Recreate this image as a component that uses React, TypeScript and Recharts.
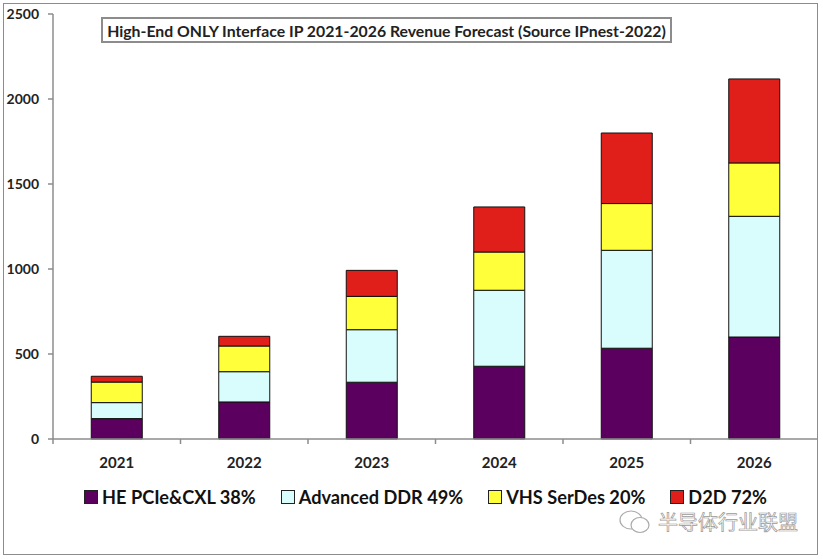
import React from "react";
import { Bar, BarChart, Legend, XAxis, YAxis } from "recharts";

const years = ["2021", "2022", "2023", "2024", "2025", "2026"];
const pcie = [120, 218, 334, 428, 534, 600];
const ddr = [94, 178, 309, 447, 576, 710];
const serdes = [121, 151, 196, 225, 275, 314];
const d2d = [34, 57, 153, 265, 415, 494];
const yTicks = [0, 500, 1000, 1500, 2000, 2500];
const seriesNames = ["HE PCIe&CXL 38%", "Advanced DDR 49%", "VHS SerDes 20%", "D2D 72%"];

const data = years.map((year, i) => ({
  year,
  pcie: pcie[i],
  ddr: ddr[i],
  serdes: serdes[i],
  d2d: d2d[i],
}));

const W = 823;
const H = 559;
const margin = { top: 14, right: 5, left: 0, bottom: 90 };
const yAxisWidth = 53;
const font = "Lato, 'Open Sans', sans-serif";
const axisGray = "#8c8c8c";

const halfBand = (W - margin.left - margin.right - yAxisWidth) / years.length / 2;

function YearTick(props: any) {
  const { x, y, payload } = props;
  const off = payload?.offset ?? halfBand;
  return (
    <g>
      <line x1={x - off} x2={x - off} y1={y - 5} y2={y} stroke={axisGray} strokeWidth={1.5} />
      <text
        x={x}
        y={y + 13}
        dy="0.71em"
        textAnchor="middle"
        fontFamily={font}
        fontWeight={700}
        fontSize={15}
        fill="#222"
      >
        {payload.value}
      </text>
    </g>
  );
}

function LegendBox(props: any) {
  // keep the series order, recharts sorts legend items by name otherwise
  const items = [...(props.payload || [])].sort(
    (a: any, b: any) => seriesNames.indexOf(a.value) - seriesNames.indexOf(b.value)
  );
  return (
    <div style={{ display: "flex", alignItems: "center", fontFamily: font, fontWeight: 700, fontSize: 18.2, color: "#111", whiteSpace: "nowrap" }}>
      {items.map((it: any) => (
        <div key={it.value} style={{ display: "flex", alignItems: "center", marginRight: 25 }}>
          <span
            style={{
              display: "inline-block",
              width: 12,
              height: 12,
              background: it.color,
              border: "1px solid #222",
              marginRight: 4,
            }}
          />
          <span>{it.value}</span>
        </div>
      ))}
    </div>
  );
}

export default function App() {
  return (
    <div style={{ position: "absolute", left: 0, top: 0, width: W, height: H, background: "#fff" }}>
      <div
        style={{
          position: "absolute",
          left: 3,
          top: 3,
          width: 815,
          height: 552,
          border: "1.5px solid #8c8c8c",
          boxSizing: "border-box",
        }}
      />
      <BarChart width={W} height={H} data={data} margin={margin} barCategoryGap="30%">
        <XAxis
          dataKey="year"
          height={30}
          stroke={axisGray}
          strokeWidth={1.5}
          tickLine={false}
          tickSize={5}
          tickMargin={0}
          tick={<YearTick />}
          interval={0}
        />
        <YAxis
          width={yAxisWidth}
          domain={[0, 2500]}
          ticks={yTicks}
          stroke={axisGray}
          strokeWidth={1.5}
          tickSize={5}
          tickMargin={9}
          tick={{ fontFamily: font, fontWeight: 700, fontSize: 14, fill: "#222" }}
        />
        <Legend
          layout="horizontal"
          verticalAlign="middle"
          align="center"
          wrapperStyle={{ left: 84, top: 486, width: "auto" }}
          content={<LegendBox />}
        />
        <Bar dataKey="pcie" name={seriesNames[0]} stackId="a" fill="#5c0060" stroke="#111" strokeWidth={1} isAnimationActive={false} />
        <Bar dataKey="ddr" name={seriesNames[1]} stackId="a" fill="#d9fcfc" stroke="#111" strokeWidth={1} isAnimationActive={false} />
        <Bar dataKey="serdes" name={seriesNames[2]} stackId="a" fill="#ffff3a" stroke="#111" strokeWidth={1} isAnimationActive={false} />
        <Bar dataKey="d2d" name={seriesNames[3]} stackId="a" fill="#e01f1a" stroke="#111" strokeWidth={1} isAnimationActive={false} />
      </BarChart>
      <div
        style={{
          position: "absolute",
          left: 101,
          top: 17,
          width: 571,
          height: 26,
          border: "2px solid #8c8c8c",
          boxSizing: "border-box",
          background: "#fff",
          display: "flex",
          alignItems: "center",
          justifyContent: "center",
          fontFamily: font,
          fontWeight: 700,
          fontSize: 15.8,
          color: "#222",
          whiteSpace: "nowrap",
        }}
      >
        High-End ONLY Interface IP 2021-2026 Revenue Forecast (Source IPnest-2022)
      </div>
      <div style={{ position: "absolute", left: 618, top: 507, display: "flex", alignItems: "center" }}>
        <svg width={34} height={26}>
          <ellipse cx={13} cy={11} rx={11} ry={9} fill="none" stroke="#aaa" strokeWidth={1.2} />
          <ellipse cx={22} cy={16} rx={9} ry={7.5} fill="#fff" stroke="#aaa" strokeWidth={1.2} />
        </svg>
        <span
          style={{
            marginLeft: 6,
            fontFamily: "'Noto Sans CJK SC', sans-serif",
            fontSize: 20,
            color: "#fff",
            WebkitTextStroke: "0.7px #9a9a9a",
          }}
        >
          半导体行业联盟
        </span>
      </div>
    </div>
  );
}
